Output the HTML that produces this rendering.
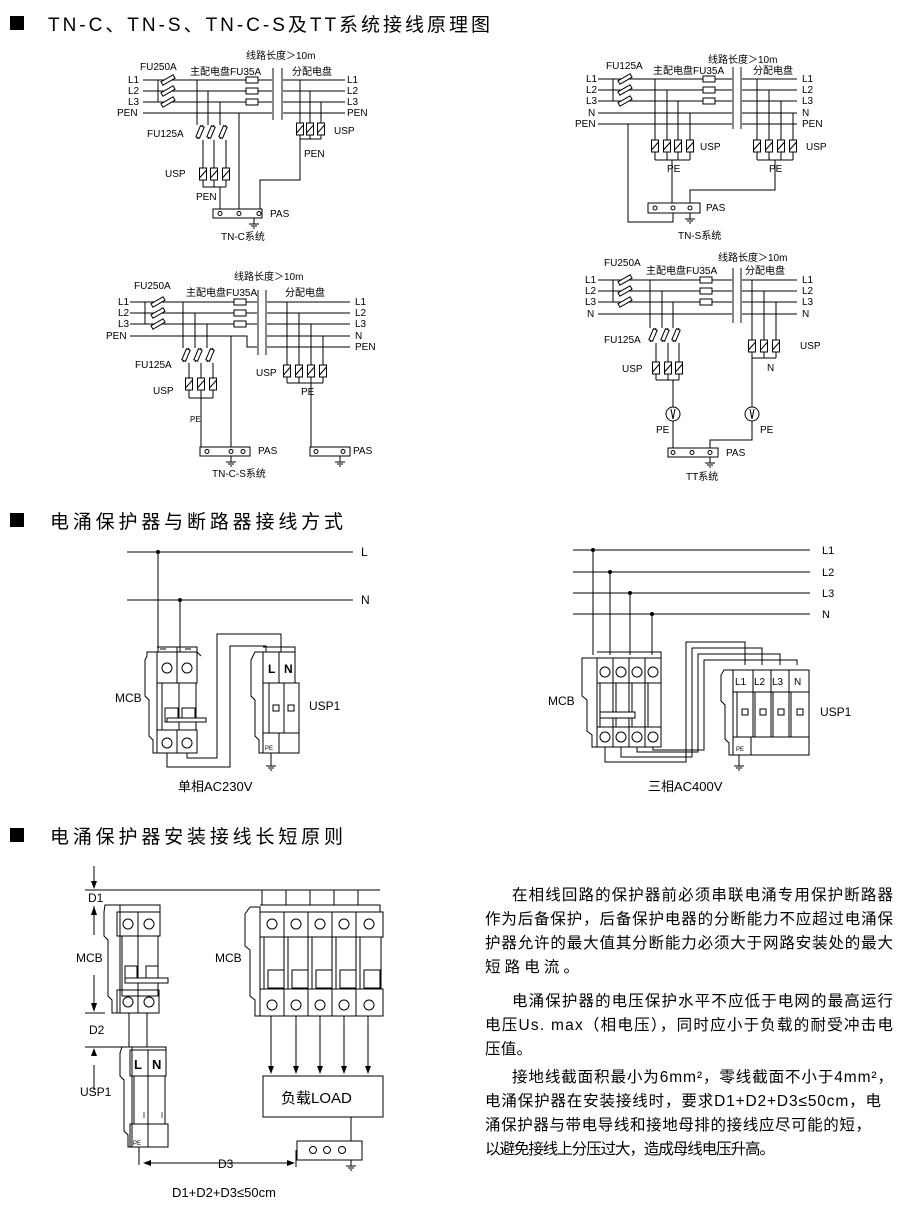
<!DOCTYPE html>
<html><head><meta charset="utf-8"><style>
html,body{margin:0;padding:0;background:#fff}
svg{display:block}
text{font-family:"Liberation Sans","Noto Sans CJK SC",sans-serif;fill:#000}
.s{font-size:10px}
</style></head><body>
<svg width="910" height="1205" viewBox="0 0 910 1205" xmlns="http://www.w3.org/2000/svg">
<defs>
<g id="u"><rect x="-3.5" y="0" width="7" height="12" fill="#fff" stroke="#000"/><line x1="-3.5" y1="10" x2="3.5" y2="2" stroke="#000"/></g>
<g id="f"><rect x="-2" y="-7" width="4" height="14" fill="#fff" stroke="#000" transform="rotate(60)"/></g>
<g id="fv"><line x1="0" y1="0" x2="6" y2="-14" stroke="#000"/><rect x="-2" y="-6" width="4" height="12" fill="#fff" stroke="#000" transform="translate(3,-7) rotate(23)"/></g>
<g id="b"><rect x="-6" y="-3" width="12" height="6" fill="#fff" stroke="#000"/></g>
<g id="g" stroke="#000"><line x1="0" y1="0" x2="0" y2="6"/><line x1="-5" y1="6" x2="5" y2="6"/><line x1="-3" y1="8" x2="3" y2="8"/><line x1="-1" y1="10" x2="1" y2="10"/></g>
<g id="c"><circle r="5" fill="#fff" stroke="#000"/></g>
</defs>

<!-- headers -->
<rect x="10" y="16" width="14" height="14"/>
<text x="48" y="31" font-size="19" textLength="442">TN-C、TN-S、TN-C-S及TT系统接线原理图</text>
<rect x="10" y="513" width="14" height="14"/>
<text x="50" y="528" font-size="19" textLength="293">电涌保护器与断路器接线方式</text>
<rect x="10" y="828" width="14" height="14"/>
<text x="50" y="843" font-size="19" textLength="293">电涌保护器安装接线长短原则</text>

<g stroke="#000" fill="none" stroke-width="1">
<!-- ===== TN-C ===== -->
<path d="M143 80H272M143 91H272M143 102H272M143 113H272M282 80H345M282 91H345M282 102H345M282 113H345"/>
<path d="M158 80V102"/>
<path d="M197 80V125M208 91V125M220 102V125"/>
<path d="M203 140V168M214 140V168M226 140V168"/>
<path d="M203 180V187M214 180V187M226 180V187M203 187H226M220 187V209"/>
<path d="M239 113V209"/>
<path d="M300 80V123M310 91V123M321 102V123M300 135V139M310 135V139M321 135V139M300 139H321M300 139V180H260V209"/>
<rect x="213" y="209" width="49" height="9"/>
</g>
<rect x="272" y="68" width="2" height="52" fill="#888"/><rect x="281" y="68" width="2" height="52" fill="#888"/>
<use href="#f" x="168" y="80"/><use href="#f" x="168" y="91"/><use href="#f" x="168" y="102"/>
<use href="#b" x="252" y="80"/><use href="#b" x="252" y="91"/><use href="#b" x="252" y="102"/>
<use href="#fv" x="197" y="139"/><use href="#fv" x="208" y="139"/><use href="#fv" x="220" y="139"/>
<use href="#u" x="203" y="168"/><use href="#u" x="214" y="168"/><use href="#u" x="226" y="168"/>
<use href="#u" x="300" y="123"/><use href="#u" x="310" y="123"/><use href="#u" x="321" y="123"/>
<g fill="#fff" stroke="#000"><circle cx="220" cy="213.5" r="2"/><circle cx="239" cy="213.5" r="2"/><circle cx="259" cy="213.5" r="2"/></g>
<use href="#g" x="254" y="218"/>
<text class="s" x="246" y="59">线路长度＞10m</text>
<text class="s" x="140" y="70">FU250A</text>
<text class="s" x="190" y="75">主配电盘FU35A</text>
<text class="s" x="292" y="75">分配电盘</text>
<text class="s" x="128" y="83">L1</text><text class="s" x="128" y="94">L2</text><text class="s" x="128" y="105">L3</text><text class="s" x="117" y="116">PEN</text>
<text class="s" x="347" y="83">L1</text><text class="s" x="347" y="94">L2</text><text class="s" x="347" y="105">L3</text><text class="s" x="347" y="116">PEN</text>
<text class="s" x="147" y="137">FU125A</text>
<text class="s" x="334" y="134">USP</text>
<text class="s" x="304" y="157">PEN</text>
<text class="s" x="165" y="177">USP</text>
<text class="s" x="196" y="200">PEN</text>
<text class="s" x="270" y="217">PAS</text>
<text class="s" x="221" y="240">TN-C系统</text>

<!-- ===== TN-S ===== -->
<g stroke="#000" fill="none">
<path d="M598 79H732M598 90H732M598 101H732M598 113H732M598 124H732M741 79H797M741 90H797M741 101H797M741 113H797M741 124H797"/>
<path d="M613 79V101"/>
<path d="M655 79V140M667 90V140M678 101V140M690 113V140M655 152V160M667 152V160M678 152V160M690 152V160M655 160H690M672 160V203"/>
<path d="M757 79V140M769 90V140M781 101V140M793 113V140M757 152V160M769 152V160M781 152V160M793 152V160M757 160H793M775 160V190H690V203"/>
<path d="M628 124V222H673V213"/>
<rect x="648" y="203" width="52" height="10"/>
</g>
<rect x="732" y="67" width="2" height="62" fill="#888"/><rect x="740" y="67" width="2" height="62" fill="#888"/>
<use href="#f" x="625" y="79"/><use href="#f" x="625" y="90"/><use href="#f" x="625" y="101"/>
<use href="#b" x="709" y="79"/><use href="#b" x="709" y="90"/><use href="#b" x="709" y="101"/>
<use href="#u" x="655" y="140"/><use href="#u" x="667" y="140"/><use href="#u" x="678" y="140"/><use href="#u" x="690" y="140"/>
<use href="#u" x="757" y="140"/><use href="#u" x="769" y="140"/><use href="#u" x="781" y="140"/><use href="#u" x="793" y="140"/>
<g fill="#fff" stroke="#000"><circle cx="655" cy="208" r="2"/><circle cx="673" cy="208" r="2"/><circle cx="690" cy="208" r="2"/></g>
<use href="#g" x="690" y="213"/>
<text class="s" x="708" y="63">线路长度＞10m</text>
<text class="s" x="606" y="69">FU125A</text>
<text class="s" x="653" y="74">主配电盘FU35A</text>
<text class="s" x="753" y="74">分配电盘</text>
<text class="s" x="586" y="82">L1</text><text class="s" x="586" y="93">L2</text><text class="s" x="586" y="104">L3</text><text class="s" x="588" y="116">N</text><text class="s" x="575" y="127">PEN</text>
<text class="s" x="802" y="82">L1</text><text class="s" x="802" y="93">L2</text><text class="s" x="802" y="104">L3</text><text class="s" x="802" y="116">N</text><text class="s" x="802" y="127">PEN</text>
<text class="s" x="700" y="150">USP</text><text class="s" x="806" y="150">USP</text>
<text class="s" x="667" y="172">PE</text><text class="s" x="769" y="172">PE</text>
<text class="s" x="706" y="211">PAS</text>
<text class="s" x="678" y="239">TN-S系统</text>

<!-- ===== TN-C-S ===== -->
<g stroke="#000" fill="none">
<path d="M130 302H257M130 313H257M130 324H257M130 336H247V347H257M267 302H350M267 313H350M267 324H350M267 336H350M267 347H350"/>
<path d="M145 302V324"/>
<path d="M183 302V348M195 313V348M207 324V348M189 363V378M201 363V378M213 363V378M189 390V398M201 390V398M213 390V398M189 398H213M201 398V447"/>
<path d="M231 336V447"/>
<path d="M287 302V365M299 313V365M311 324V365M323 336V365M287 377V383M299 377V383M311 377V383M323 377V383M287 383H323M311 383V447"/>
<rect x="200" y="447" width="50" height="9"/><rect x="310" y="447" width="40" height="9"/>
</g>
<rect x="257" y="290" width="2" height="65" fill="#888"/><rect x="265" y="290" width="2" height="65" fill="#888"/>
<use href="#f" x="158" y="302"/><use href="#f" x="158" y="313"/><use href="#f" x="158" y="324"/>
<use href="#b" x="240" y="302"/><use href="#b" x="240" y="313"/><use href="#b" x="240" y="324"/>
<use href="#fv" x="183" y="362"/><use href="#fv" x="195" y="362"/><use href="#fv" x="207" y="362"/>
<use href="#u" x="189" y="378"/><use href="#u" x="201" y="378"/><use href="#u" x="213" y="378"/>
<use href="#u" x="287" y="365"/><use href="#u" x="299" y="365"/><use href="#u" x="311" y="365"/><use href="#u" x="323" y="365"/>
<g fill="#fff" stroke="#000"><circle cx="207" cy="451.5" r="2"/><circle cx="231" cy="451.5" r="2"/><circle cx="243" cy="451.5" r="2"/><circle cx="316" cy="451.5" r="2"/><circle cx="343" cy="451.5" r="2"/></g>
<use href="#g" x="231" y="456"/><use href="#g" x="340" y="456"/>
<text class="s" x="234" y="280">线路长度＞10m</text>
<text class="s" x="134" y="289">FU250A</text>
<text class="s" x="186" y="296">主配电盘FU35A</text>
<text class="s" x="285" y="296">分配电盘</text>
<text class="s" x="118" y="305">L1</text><text class="s" x="118" y="316">L2</text><text class="s" x="118" y="327">L3</text><text class="s" x="106" y="339">PEN</text>
<text class="s" x="355" y="305">L1</text><text class="s" x="355" y="316">L2</text><text class="s" x="355" y="327">L3</text><text class="s" x="355" y="339">N</text><text class="s" x="355" y="350">PEN</text>
<text class="s" x="135" y="368">FU125A</text>
<text class="s" x="256" y="376">USP</text>
<text class="s" x="153" y="394">USP</text>
<text class="s" x="301" y="395">PE</text>
<text font-size="8" x="190" y="422">PE</text>
<text class="s" x="258" y="454">PAS</text><text class="s" x="353" y="454">PAS</text>
<text class="s" x="212" y="477">TN-C-S系统</text>

<!-- ===== TT ===== -->
<g stroke="#000" fill="none">
<path d="M598 280H732M598 291H732M598 302H732M598 314H732M741 280H797M741 291H797M741 302H797M741 314H797"/>
<path d="M613 280V302"/>
<path d="M650 280V328M662 291V328M673 302V328M656 343V362M668 343V362M679 343V362M656 374V380M668 374V380M679 374V380M656 380H679M673 380V407M673 421V448"/>
<path d="M752 280V340M764 291V340M776 302V340M752 352V358M764 352V358M776 352V358M752 358H776M752 358V407M752 421V440H710V448"/>
<rect x="668" y="448" width="50" height="9"/>
</g>
<rect x="732" y="268" width="2" height="55" fill="#888"/><rect x="740" y="268" width="2" height="55" fill="#888"/>
<use href="#f" x="625" y="280"/><use href="#f" x="625" y="291"/><use href="#f" x="625" y="302"/>
<use href="#b" x="706" y="280"/><use href="#b" x="706" y="291"/><use href="#b" x="706" y="302"/>
<use href="#fv" x="650" y="342"/><use href="#fv" x="662" y="342"/><use href="#fv" x="673" y="342"/>
<use href="#u" x="656" y="362"/><use href="#u" x="668" y="362"/><use href="#u" x="679" y="362"/>
<use href="#u" x="752" y="340"/><use href="#u" x="764" y="340"/><use href="#u" x="776" y="340"/>
<circle cx="673" cy="414" r="7" fill="#fff" stroke="#000"/><circle cx="752" cy="414" r="7" fill="#fff" stroke="#000"/>
<path d="M671 409L673 419L675 409" stroke="#000" fill="none"/><path d="M750 409L752 419L754 409" stroke="#000" fill="none"/>
<g fill="#fff" stroke="#000"><circle cx="673" cy="452.5" r="2"/><circle cx="692" cy="452.5" r="2"/><circle cx="710" cy="452.5" r="2"/></g>
<use href="#g" x="710" y="457"/>
<text class="s" x="718" y="261">线路长度＞10m</text>
<text class="s" x="604" y="266">FU250A</text>
<text class="s" x="646" y="274">主配电盘FU35A</text>
<text class="s" x="745" y="274">分配电盘</text>
<text class="s" x="585" y="283">L1</text><text class="s" x="585" y="294">L2</text><text class="s" x="585" y="305">L3</text><text class="s" x="587" y="317">N</text>
<text class="s" x="802" y="283">L1</text><text class="s" x="802" y="294">L2</text><text class="s" x="802" y="305">L3</text><text class="s" x="802" y="317">N</text>
<text class="s" x="604" y="343">FU125A</text>
<text class="s" x="800" y="349">USP</text>
<text class="s" x="767" y="371">N</text>
<text class="s" x="622" y="372">USP</text>
<text class="s" x="656" y="433">PE</text><text class="s" x="760" y="433">PE</text>
<text class="s" x="726" y="456">PAS</text>
<text class="s" x="686" y="480">TT系统</text>

<!-- ===== Section 2 left ===== -->
<g stroke="#000" fill="none">
<path d="M127 552H353M127 600H353"/>
<path d="M158 552V652M180 600V652"/>
<!-- MCB -->
<path d="M147 652H157V753H153V740L149 736V700L145 696V660L147 656Z"/>
<path d="M157 647H177V652M177 647H197V652M197 652L201 656"/>
<rect x="157" y="652" width="20" height="31"/><rect x="177" y="652" width="20" height="31"/>
<path d="M160 649H166M185 649H191"/>
<rect x="162" y="683" width="17" height="47"/><rect x="179" y="683" width="17" height="47"/>
<rect x="165" y="708" width="13" height="14"/><rect x="182" y="708" width="13" height="14"/>
<path d="M167 718H206V722H167Z" fill="#fff"/>
<rect x="157" y="730" width="20" height="23"/><rect x="177" y="730" width="20" height="23"/>
<!-- wires -->
<path d="M167 753V767H230V646H266V652"/>
<path d="M187 753V758H217V634H281V652"/>
<!-- USP -->
<path d="M255 652H263V753H259V740L255 736V700L251 696V660L253 656Z"/>
<rect x="263" y="652" width="16" height="31"/><rect x="279" y="652" width="16" height="31"/>
<path d="M263 647H295V652"/>
<rect x="269" y="683" width="15" height="50"/><rect x="284" y="683" width="15" height="50"/>
<rect x="273" y="705" width="6" height="6"/><rect x="288" y="705" width="6" height="6"/>
<rect x="263" y="733" width="16" height="20"/><rect x="279" y="733" width="20" height="20"/>
</g>
<circle cx="158" cy="552" r="2"/><circle cx="180" cy="600" r="2"/>
<use href="#c" x="167" y="668"/><use href="#c" x="187" y="668"/><use href="#c" x="167" y="743"/><use href="#c" x="187" y="743"/>
<use href="#g" x="271" y="760"/><line x1="271" y1="753" x2="271" y2="760" stroke="#000"/>
<text x="361" y="556" font-size="12">L</text><text x="361" y="604" font-size="12">N</text>
<text x="268" y="673" font-size="12" font-weight="bold">L</text><text x="284" y="673" font-size="12" font-weight="bold">N</text>
<text x="115" y="702" font-size="12">MCB</text>
<text x="309" y="710" font-size="12">USP1</text>
<text x="265" y="750" font-size="6">PE</text>
<text x="178" y="791" font-size="13">单相AC230V</text>

<!-- ===== Section 2 right ===== -->
<g stroke="#000" fill="none">
<path d="M573 550H810M573 572H810M573 593H810M573 614H810"/>
<path d="M593 550V655M610 572V655M630 593V655M652 614V655"/>
<path d="M582 658H597V747H592V735L587 731V700L582 696V664Z"/>
<path d="M597 652H661V658"/>
<rect x="597" y="658" width="16" height="25"/><rect x="613" y="658" width="16" height="25"/><rect x="629" y="658" width="16" height="25"/><rect x="645" y="658" width="16" height="25"/>
<rect x="600" y="683" width="13" height="44"/><rect x="616" y="683" width="13" height="44"/><rect x="632" y="683" width="13" height="44"/><rect x="648" y="683" width="13" height="44"/>
<path d="M600 712H635V718H600Z" fill="#fff"/>
<rect x="597" y="727" width="16" height="20"/><rect x="613" y="727" width="16" height="20"/><rect x="629" y="727" width="16" height="20"/><rect x="645" y="727" width="16" height="20"/>
<path d="M605 747V762H686V642H745V665"/>
<path d="M621 747V757H692V648H762V665"/>
<path d="M637 747V752H698V654H780V665"/>
<path d="M653 747V750H704V660H797V665"/>
<path d="M724 670H733V755H729V743L725 739V705L721 701V675Z"/>
<rect x="733" y="670" width="20" height="22"/><rect x="753" y="670" width="18" height="22"/><rect x="771" y="670" width="18" height="22"/><rect x="789" y="670" width="20" height="22"/>
<rect x="737" y="692" width="16" height="45"/><rect x="755" y="692" width="16" height="45"/><rect x="773" y="692" width="16" height="45"/><rect x="791" y="692" width="18" height="45"/>
<rect x="742" y="709" width="6" height="6"/><rect x="760" y="709" width="6" height="6"/><rect x="778" y="709" width="6" height="6"/><rect x="797" y="709" width="6" height="6"/>
<rect x="733" y="737" width="18" height="18"/><rect x="751" y="737" width="58" height="18"/>
</g>
<circle cx="593" cy="550" r="2"/><circle cx="610" cy="572" r="2"/><circle cx="630" cy="593" r="2"/><circle cx="652" cy="614" r="2"/>
<use href="#c" x="605" y="672"/><use href="#c" x="621" y="672"/><use href="#c" x="637" y="672"/><use href="#c" x="653" y="672"/>
<use href="#c" x="605" y="737"/><use href="#c" x="621" y="737"/><use href="#c" x="637" y="737"/><use href="#c" x="653" y="737"/>
<line x1="739" y1="755" x2="739" y2="760" stroke="#000"/><use href="#g" x="739" y="760"/>
<text x="822" y="554" font-size="11">L1</text><text x="822" y="576" font-size="11">L2</text><text x="822" y="597" font-size="11">L3</text><text x="822" y="618" font-size="11">N</text>
<text x="735" y="685" font-size="10">L1</text><text x="754" y="685" font-size="10">L2</text><text x="772" y="685" font-size="10">L3</text><text x="794" y="685" font-size="10">N</text>
<text x="548" y="705" font-size="12">MCB</text>
<text x="820" y="716" font-size="12">USP1</text>
<text x="736" y="751" font-size="6">PE</text>
<text x="648" y="791" font-size="13">三相AC400V</text>

<!-- ===== Section 3 ===== -->
<g stroke="#000" fill="none">
<path d="M85 890H380"/>
<path d="M94 866V888M94 906V935M94 975V1010M85 1013H105M85 1047H125M94 1090V1065"/>
<!-- left MCB -->
<path d="M105 905H120V1013H112V1000L108 996V940L104 936V912Z"/>
<path d="M117 905H160V912"/>
<rect x="117" y="912" width="21" height="24"/><rect x="138" y="912" width="22" height="24"/>
<rect x="122" y="936" width="16" height="60"/><rect x="138" y="936" width="20" height="60"/>
<rect x="125" y="966" width="12" height="16"/><rect x="146" y="966" width="12" height="16"/>
<path d="M125 978H168V983H125Z" fill="#fff"/>
<rect x="117" y="990" width="21" height="23"/><rect x="138" y="990" width="21" height="23"/>
<path d="M129 1013V1047M147 1013V1047"/>
<!-- USP1 -->
<path d="M122 1047H132V1147H128V1135L124 1131V1080L120 1076V1053Z"/>
<rect x="130" y="1050" width="18" height="26"/><rect x="148" y="1050" width="18" height="26"/>
<path d="M130 1047H166V1050"/>
<rect x="134" y="1076" width="14" height="48"/><rect x="148" y="1076" width="17" height="48"/>
<rect x="130" y="1124" width="18" height="23"/><rect x="148" y="1124" width="20" height="23"/>
<path d="M139 1147V1165"/>
<!-- right MCB -->
<path d="M250 907H260V1016H255V1000L250 996V950L245 946V914Z"/>
<path d="M262 890V905M286 890V905M310 890V905M334 890V905M358 890V905"/>
<path d="M260 905H380V912"/>
<rect x="260" y="912" width="24" height="25"/><rect x="284" y="912" width="24" height="25"/><rect x="308" y="912" width="24" height="25"/><rect x="332" y="912" width="24" height="25"/><rect x="356" y="912" width="27" height="25"/>
<rect x="264" y="937" width="20" height="52"/><rect x="288" y="937" width="20" height="52"/><rect x="312" y="937" width="20" height="52"/><rect x="336" y="937" width="20" height="52"/><rect x="360" y="937" width="21" height="52"/>
<rect x="268" y="970" width="16" height="18"/><rect x="292" y="970" width="16" height="18"/><rect x="316" y="970" width="16" height="18"/><rect x="340" y="970" width="16" height="18"/><rect x="364" y="970" width="16" height="18"/>
<rect x="260" y="989" width="24" height="27"/><rect x="284" y="989" width="24" height="27"/><rect x="308" y="989" width="24" height="27"/><rect x="332" y="989" width="24" height="27"/><rect x="356" y="989" width="27" height="27"/>
<path d="M271 1016V1068M296 1016V1068M320 1016V1068M344 1016V1068M368 1016V1068"/>
<rect x="263" y="1076" width="120" height="41"/>
<path d="M351 1117V1141"/>
<rect x="297" y="1141" width="65" height="19"/>
<path d="M148 1163H290"/>
<path d="M296 1150V1167"/>
</g>
<g fill="#000">
<path d="M91 881L94 889L97 881Z"/><path d="M91 915L94 906L97 915Z"/><path d="M91 1003L94 1012L97 1003Z"/><path d="M91 1056L94 1048L97 1056Z"/>
<path d="M268 1066L271 1074L274 1066Z"/><path d="M293 1066L296 1074L299 1066Z"/><path d="M317 1066L320 1074L323 1066Z"/><path d="M341 1066L344 1074L347 1066Z"/><path d="M365 1066L368 1074L371 1066Z"/>
<path d="M143 1163L151 1160V1166Z"/><path d="M295 1163L287 1160V1166Z"/>
</g>
<g fill="#fff" stroke="#000">
<circle cx="128" cy="924" r="5"/><circle cx="149" cy="924" r="5"/><circle cx="128" cy="1002" r="5"/><circle cx="149" cy="1002" r="5"/>
<circle cx="272" cy="924" r="5"/><circle cx="296" cy="924" r="5"/><circle cx="320" cy="924" r="5"/><circle cx="344" cy="924" r="5"/><circle cx="369" cy="924" r="5"/>
<circle cx="272" cy="1005" r="5"/><circle cx="296" cy="1005" r="5"/><circle cx="320" cy="1005" r="5"/><circle cx="344" cy="1005" r="5"/><circle cx="369" cy="1005" r="5"/>
<circle cx="313" cy="1150" r="3.5"/><circle cx="327" cy="1150" r="3.5"/><circle cx="342" cy="1150" r="3.5"/>
</g>
<rect x="143" y="1112" width="2" height="6" fill="#aaa"/><rect x="161" y="1112" width="2" height="6" fill="#aaa"/>
<use href="#g" x="351" y="1160"/>
<text x="88" y="902" font-size="12">D1</text>
<text x="76" y="962" font-size="12">MCB</text>
<text x="215" y="962" font-size="12">MCB</text>
<text x="89" y="1034" font-size="12">D2</text>
<text x="80" y="1096" font-size="12">USP1</text>
<text x="134" y="1069" font-size="13" font-weight="bold">L</text><text x="152" y="1069" font-size="13" font-weight="bold">N</text>
<text x="133" y="1145" font-size="6">PE</text>
<text x="281" y="1103" font-size="15">负载LOAD</text>
<text x="218" y="1168" font-size="12">D3</text>
<text x="172" y="1197" font-size="13">D1+D2+D3≤50cm</text>

<!-- paragraphs -->
<g font-size="15.5">
<text x="512" y="900" textLength="381">在相线回路的保护器前必须串联电涌专用保护断路器</text>
<text x="485" y="924" textLength="408">作为后备保护，后备保护电器的分断能力不应超过电涌保</text>
<text x="485" y="948" textLength="408">护器允许的最大值其分断能力必须大于网路安装处的最大</text>
<text x="485" y="972" textLength="94">短路电流。</text>
<text x="512" y="1006" textLength="381">电涌保护器的电压保护水平不应低于电网的最高运行</text>
<text x="485" y="1030" textLength="408">电压Us. max（相电压），同时应小于负载的耐受冲击电</text>
<text x="485" y="1054" textLength="47">压值。</text>
<text x="512" y="1082" textLength="381">接地线截面积最小为6mm²，零线截面不小于4mm²，</text>
<text x="485" y="1106" textLength="396">电涌保护器在安装接线时，要求D1+D2+D3≤50cm，电</text>
<text x="485" y="1130" textLength="386">涌保护器与带电导线和接地母排的接线应尽可能的短，</text>
<text x="485" y="1154" textLength="290">以避免接线上分压过大，造成母线电压升高。</text>
</g>
</svg>
</body></html>
